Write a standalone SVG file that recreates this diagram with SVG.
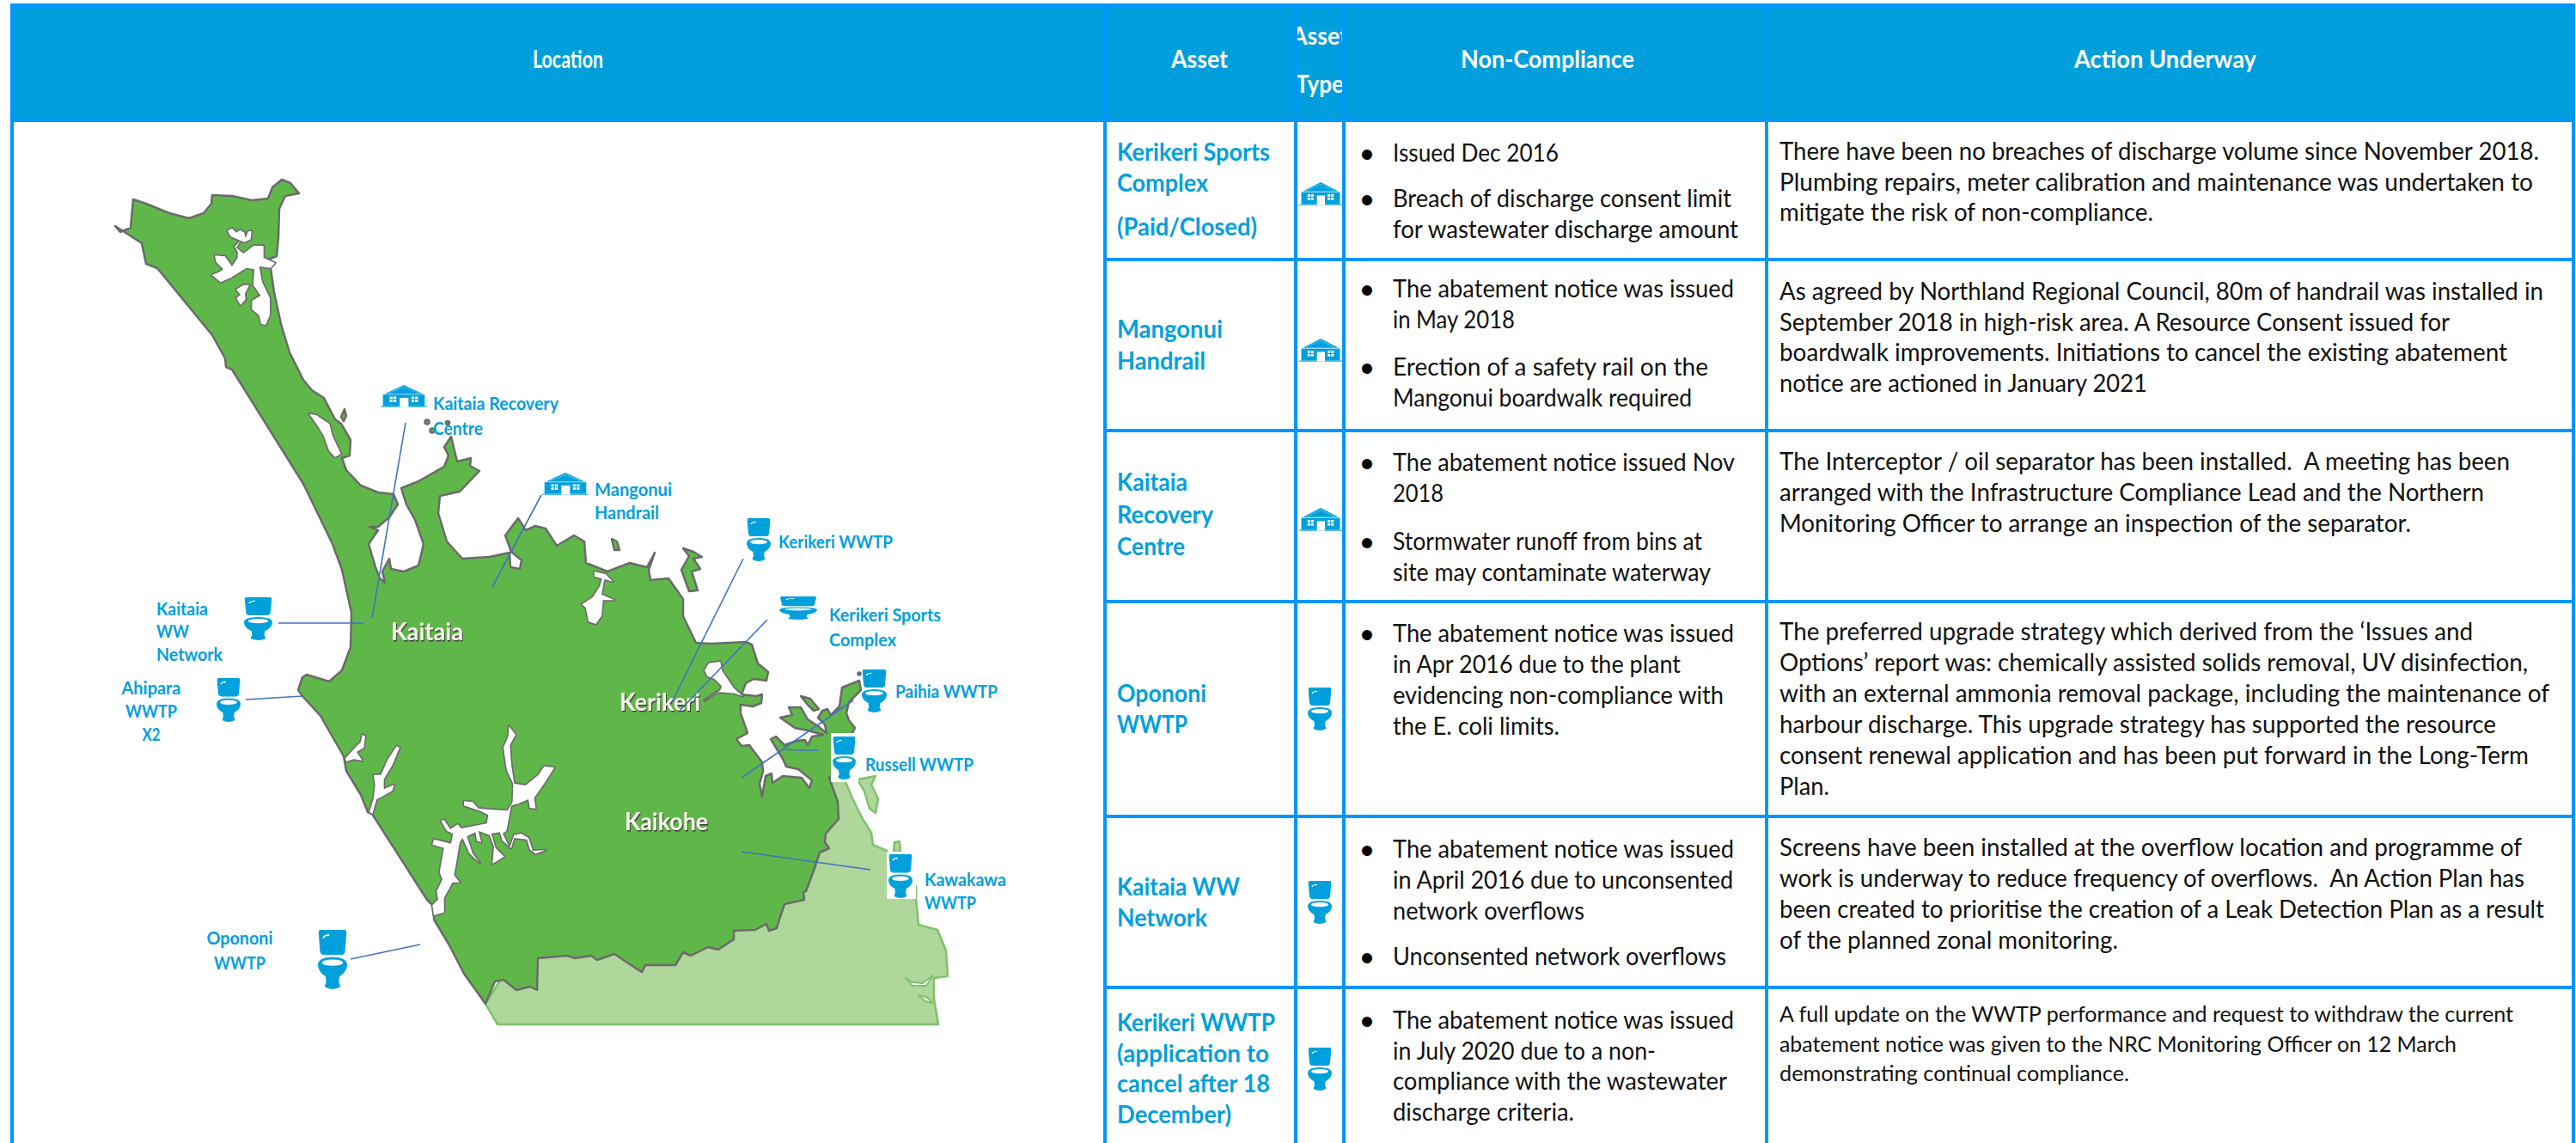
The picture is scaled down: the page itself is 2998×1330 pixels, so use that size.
<svg xmlns="http://www.w3.org/2000/svg" xmlns:xlink="http://www.w3.org/1999/xlink" width="2998" height="1330" viewBox="0 0 2998 1330">
<style>
text{font-family:"Lato","Liberation Sans",sans-serif}
.b{font-size:28.5px;fill:#111}
.s{font-size:25.5px;fill:#111}
.a{font-size:29px;font-weight:700;fill:#00A0DC}
.h{font-size:29px;font-weight:700;fill:#fff;text-anchor:middle}
.m{font-size:21.5px;font-weight:700;fill:#00A0DC}
.mc{font-size:21.5px;font-weight:700;fill:#00A0DC;text-anchor:middle}
.p{font-size:29px;font-weight:700;fill:#F4F4E8;filter:url(#ps)}
.d{font-family:"Liberation Sans",sans-serif;font-size:44px;fill:#000;text-anchor:middle}
.g{fill:none;stroke:#0096FF;stroke-width:4}
.c{fill:none;stroke:#4472C4;stroke-width:1.6}
</style>
<defs>
<filter id="soft" filterUnits="userSpaceOnUse" x="0" y="140" width="1290" height="1190"><feGaussianBlur stdDeviation="0.7"/></filter>
<filter id="ps" x="-5%" y="-20%" width="110%" height="140%"><feDropShadow dx="1" dy="1.5" stdDeviation="0.6" flood-color="#3a3a3a"/></filter>
<clipPath id="atc"><rect x="1510" y="10" width="52" height="128"/></clipPath>
<symbol id="toilet" viewBox="0 0 84 150" preserveAspectRatio="none">
<path fill="#00A0DC" d="M8,0H76Q83,0 82,8L78,54Q77,63 68,63H16Q7,63 6,54L2,8Q1,0 8,0Z"/>
<path fill="#fff" d="M13,20Q18,11 34,11L31,16H22L17,22Z"/>
<path fill="#00A0DC" d="M0,88Q1,69 42,69Q83,69 84,88Q84,106 62,118L60,132Q64,138 64,144Q54,150 42,150Q30,150 20,144Q20,138 24,132L22,118Q0,106 0,88Z"/>
<ellipse fill="#fff" cx="42" cy="83" rx="30" ry="8"/>
</symbol>
<symbol id="house" viewBox="0 0 160 77" preserveAspectRatio="none">
<path fill="#00A0DC" d="M80,0L147,31H13Z"/>
<path fill="none" stroke="#fff" stroke-width="2" stroke-dasharray="3 3" d="M28,28L80,7L132,28"/>
<rect fill="#00A0DC" x="8" y="33" width="144" height="40"/>
<rect fill="#00A0DC" x="0" y="73" width="160" height="3"/>
<g fill="#fff"><rect x="31" y="40" width="10" height="8"/><rect x="44" y="40" width="10" height="8"/><rect x="31" y="51" width="10" height="8"/><rect x="44" y="51" width="10" height="8"/><rect x="106" y="40" width="10" height="8"/><rect x="119" y="40" width="10" height="8"/><rect x="106" y="51" width="10" height="8"/><rect x="119" y="51" width="10" height="8"/><rect x="66" y="44" width="30" height="32"/></g>
</symbol>
<g id="inl">
<g transform="translate(120,200) scale(.33333)">
<path d="M435,205L450,197 465,212 478,203 493,212 497,232 507,208 518,207 515,235 495,245 480,240 465,265 490,285 510,270 525,258 560,258 560,300 600,318 585,335 545,330 555,385 582,440 582,500 567,535 552,530 545,500 520,480 520,450 550,432 525,395 528,340 500,335 445,370 410,385 380,360 405,350 420,340 395,315 390,292 425,295 450,330 470,300 470,280 460,260 480,240 445,225Z"/>
<path d="M510,395L495,425 497,445 480,465 465,440 480,430 465,410 490,395Z"/>
<path d="M720,845L745,850 790,880 800,920 830,985 810,995 790,975 770,920 745,880Z"/>
</g>
<g transform="translate(340,600) scale(.33333)">
<path d="M510,1340L505,1310 525,1270 515,1245 530,1160 490,1148 495,1130 555,1145 562,1110 540,1100 520,1065 530,1062 552,1095 578,1078 590,1092 680,1075 685,1045 660,1032 600,1012 600,997 630,1000 650,1022 680,1025 752,1030 770,1000 772,935 750,890 738,810 755,770 757,735 780,765 760,800 765,870 775,935 815,942 860,905 880,875 915,880 880,935 845,985 850,1022 830,1020 825,990 790,1005 765,1012 748,1100 735,1110 760,1160 775,1115 800,1110 825,1125 840,1170 885,1168 850,1180 830,1165 820,1130 775,1125 765,1160 735,1135 725,1105 695,1110 710,1160 740,1190 700,1215 705,1155 690,1115 650,1100 660,1140 645,1135 640,1105 610,1120 630,1180 655,1212 620,1180 595,1125 585,1140 575,1200 565,1255 585,1280 560,1280 530,1335 530,1385 495,1395 490,1360Z"/>
<path d="M185,848L215,815 240,790 245,765 255,770 250,810 225,825 245,855 215,850 190,858Z"/>
<path d="M270,1035L285,985 290,940 285,905 310,905 335,850 365,805 375,810 350,870 320,920 320,955 355,940 350,960 315,980 295,990 280,1040Z"/>
<path d="M1055,195L1095,205 1120,230 1090,222 1080,275 1125,295 1085,295 1080,350 1060,378 1035,370 1025,320 1012,310 1050,285 1075,245 1082,220 1055,212Z"/>
</g>
<g transform="translate(740,590) scale(.33333)">
<path d="M240,570L255,545 295,540 300,570 340,630 372,660 345,650 285,645 240,675 295,640 300,625 275,600 250,590Z"/>
</g>
</g>
</defs>
<rect width="2998" height="1330" fill="#fff"/>

<g id="table-header">
<rect x="14" y="6" width="2981" height="134" fill="#009EDB"/>
<text class="h" x="661" y="79" textLength="82" lengthAdjust="spacingAndGlyphs">Location</text>
<text class="h" x="1396" y="79" textLength="66" lengthAdjust="spacingAndGlyphs">Asset</text>
<g clip-path="url(#atc)"><text class="h" x="1536" y="52" textLength="66" lengthAdjust="spacingAndGlyphs">Asset</text>
<text class="h" x="1536" y="108" textLength="56" lengthAdjust="spacingAndGlyphs">Type</text></g>
<text class="h" x="1801" y="79" textLength="202" lengthAdjust="spacingAndGlyphs">Non-Compliance</text>
<text class="h" x="2520" y="79" textLength="212" lengthAdjust="spacingAndGlyphs">Action Underway</text>
</g>

<g id="map" filter="url(#soft)">
<path fill="#AFD69B" stroke="#7CC36A" stroke-width="2.5" stroke-linejoin="round" d="M565,1168L579,1192 1092,1192 1087,1162 1087,1138 1103,1136 1101,1106 1091,1082 1069,1076 1066,1045 1066,1031 1032,990 1016,983 1014,969 1004,953 992,929 984,910 965,900 900,1000 620,1080Z"/>
<path fill="#AFD69B" stroke="#7CC36A" stroke-width="2.5" stroke-linejoin="round" d="M998,907L1019,903 1014,913 1022,929 1019,946 1012,941 1006,921Z"/>
<path fill="#AFD69B" stroke="#7CC36A" stroke-width="2.5" stroke-linejoin="round" d="M1041,980L1047,979 1048,991 1040,991Z"/>
<path fill="#fff" stroke="#7CC36A" stroke-width="2" stroke-linejoin="round" d="M1054,1138L1062,1143 1074,1144 1086,1135 1078,1147 1062,1147Z"/>
<path fill="#fff" stroke="#7CC36A" stroke-width="2" stroke-linejoin="round" d="M1069,1158L1078,1160 1086,1167 1077,1165Z"/>
<path id="land" fill="#61B748" stroke="#6B6B6B" stroke-width="2.5" stroke-linejoin="round" d="M134,263L140,270 152,265 155,232 170,237 197,248 220,254 237,248 246,237 247,227 270,228 293,233 312,231 317,218 328,209 338,213 348,225 332,228 325,243 324,277 322,298 307,304 315,312 319,340 327,377 337,410 353,442 363,454 377,463 390,488 397,493 408,512 407,530 398,533 403,547 420,565 440,573 458,575 463,587 453,602 440,613 430,613 440,617 429,633 437,660 442,673 448,678 445,665 453,650 455,662 470,665 487,658 493,633 483,605 473,587 467,568 487,560 517,543 522,530 517,520 525,508 532,537 548,533 547,542 558,548 535,572 512,577 510,597 520,630 538,650 570,648 593,643 594,660 605,662 607,652 595,642 588,623 603,603 612,617 623,612 635,615 648,635 668,623 680,630 682,655 707,665 733,655 753,660 762,643 755,663 757,675 778,673 795,697 795,717 810,748 827,749 868,747 875,750 882,772 894,782 892,792 877,790 868,795 863,808 880,810 887,808 886,818 876,822 862,820 862,830 870,853 857,860 863,868 872,867 887,887 888,898 884,912 887,927 891,903 898,900 899,911 911,903 933,905 942,917 945,908 929,895 915,892 911,883 897,860 903,857 913,867 927,862 937,861 940,867 945,857 958,855 940,850 925,847 908,835 922,832 918,823 932,823 940,837 952,845 962,853 960,843 952,835 957,827 963,825 967,832 977,822 980,800 1000,792 1002,803 988,817 985,830 988,838 995,847 992,853 990,880 965,905 975,933 976,953 961,970 960,980 965,987 954,992 947,1013 938,1037 935,1038 936,1047 913,1052 908,1067 904,1080 895,1083 892,1075 879,1082 854,1083 854,1093 836,1105 824,1102 804,1112 795,1108 786,1123 751,1123 747,1131 742,1128 715,1110 695,1117 688,1112 669,1115 660,1112 626,1115 625,1152 617,1148 601,1152 586,1140 576,1142 565,1168 540,1133 523,1100 505,1070 505,1065 517,1060 517,1045 508,1037 510,1048 503,1053 497,1047 433,947 428,945 420,925 403,897 400,880 373,833 352,810 347,803 352,788 357,785 383,793 398,780 408,753 409,713 398,663 387,633 353,563 270,430 263,427 262,417 247,390 183,312 170,307 165,283Z"/>
<use href="#inl" fill="#fff" stroke="#6B6B6B" stroke-width="10" stroke-linejoin="round"/>
<use href="#inl" fill="#fff" stroke="none"/>
<g fill="#61B748" stroke="#6B6B6B" stroke-width="2.5" stroke-linejoin="round">
<path d="M712,627L718,630 721,640 715,640Z"/>
<path d="M795,638L807,642 817,648 807,650 815,662 805,665 812,687 802,688 793,663 802,647Z"/>
<path d="M932,810L943,813 953,825 947,827 940,820Z"/>
<path d="M397,485L401,476 403,484 400,490Z"/>
<circle cx="497" cy="491" r="2.5"/><circle cx="503" cy="501" r="2.5"/><circle cx="521" cy="492" r="2"/>
<circle cx="1000" cy="784" r="1.5"/>
</g>
</g>
<g id="place-names">
<text class="p" x="455" y="745" textLength="84" lengthAdjust="spacingAndGlyphs">Kaitaia</text>
<text class="p" x="721" y="827" textLength="94" lengthAdjust="spacingAndGlyphs">Kerikeri</text>
<text class="p" x="727" y="966" textLength="97" lengthAdjust="spacingAndGlyphs">Kaikohe</text>
</g>

<g id="connectors" class="c">
<path class="c" d="M472,492L433,719"/>
<path class="c" d="M630,576L573,683"/>
<path class="c" d="M324,725H423"/>
<path class="c" d="M286,814L352,810"/>
<path class="c" d="M408,1116L489,1099"/>
<path class="c" d="M865,650L782,817"/>
<path class="c" d="M893,721L790,828"/>
<path class="c" d="M993,815L863,905"/>
<path class="c" d="M953,873L930,873 913,872"/>
<path class="c" d="M1013,1012L863,991"/>
</g>

<g id="node-kaitaia-recovery"><use href="#house" x="443" y="448" width="54" height="26"/><text class="m" x="504" y="477" textLength="146" lengthAdjust="spacingAndGlyphs">Kaitaia Recovery</text><text class="m" x="504" y="506" textLength="58" lengthAdjust="spacingAndGlyphs">Centre</text></g>
<g id="node-mangonui"><use href="#house" x="631" y="550" width="54" height="26"/><text class="m" x="692" y="577" textLength="90" lengthAdjust="spacingAndGlyphs">Mangonui</text><text class="m" x="692" y="604" textLength="75" lengthAdjust="spacingAndGlyphs">Handrail</text></g>
<g id="node-kerikeri-wwtp"><use href="#toilet" x="869" y="603" width="28" height="50"/><text class="m" x="906" y="638" textLength="133" lengthAdjust="spacingAndGlyphs">Kerikeri WWTP</text></g>
<g id="node-kerikeri-sports"><use href="#toilet" x="907" y="694" width="44" height="27"/><text class="m" x="965" y="723" textLength="130" lengthAdjust="spacingAndGlyphs">Kerikeri Sports</text><text class="m" x="965" y="752" textLength="78" lengthAdjust="spacingAndGlyphs">Complex</text></g>
<g id="node-paihia"><use href="#toilet" x="1003" y="779" width="29" height="50"/><text class="m" x="1042" y="812" textLength="119" lengthAdjust="spacingAndGlyphs">Paihia WWTP</text></g>
<g id="node-russell"><rect x="967" y="853" width="32" height="57" fill="#fff"/><use href="#toilet" x="969" y="857" width="27" height="50"/><text class="m" x="1007" y="897" textLength="126" lengthAdjust="spacingAndGlyphs">Russell WWTP</text></g>
<g id="node-kawakawa"><rect x="1032" y="991" width="34" height="55" fill="#fff"/><use href="#toilet" x="1034" y="994" width="28" height="51"/><text class="m" x="1076" y="1031" textLength="95" lengthAdjust="spacingAndGlyphs">Kawakawa</text><text class="m" x="1076" y="1058" textLength="60" lengthAdjust="spacingAndGlyphs">WWTP</text></g>
<g id="node-kaitaia-ww"><use href="#toilet" x="284" y="695" width="33" height="50"/><text class="m" x="182" y="716" textLength="60" lengthAdjust="spacingAndGlyphs">Kaitaia</text><text class="m" x="182" y="742" textLength="38" lengthAdjust="spacingAndGlyphs">WW</text><text class="m" x="182" y="769" textLength="77" lengthAdjust="spacingAndGlyphs">Network</text></g>
<g id="node-ahipara"><use href="#toilet" x="252" y="789" width="28" height="51"/><text class="mc" x="176" y="808" textLength="69" lengthAdjust="spacingAndGlyphs">Ahipara</text><text class="mc" x="176" y="835" textLength="60" lengthAdjust="spacingAndGlyphs">WWTP</text><text class="mc" x="176" y="862" textLength="21" lengthAdjust="spacingAndGlyphs">X2</text></g>
<g id="node-opononi"><use href="#toilet" x="370" y="1082" width="34" height="69"/><text class="mc" x="279" y="1099" textLength="77" lengthAdjust="spacingAndGlyphs">Opononi</text><text class="mc" x="279" y="1128" textLength="60" lengthAdjust="spacingAndGlyphs">WWTP</text></g>

<g id="row-1">
<text class="a" x="1300" y="187" textLength="178" lengthAdjust="spacingAndGlyphs">Kerikeri Sports</text><text class="a" x="1300" y="223" textLength="106" lengthAdjust="spacingAndGlyphs">Complex</text><text class="a" x="1300" y="274" textLength="163" lengthAdjust="spacingAndGlyphs">(Paid/Closed)</text>
<use href="#house" x="1512" y="212" width="50" height="27"/>
<text class="d" x="1591" y="195">•</text><text class="b" x="1621" y="188" textLength="193" lengthAdjust="spacingAndGlyphs">Issued Dec 2016</text>
<text class="d" x="1591" y="248">•</text><text class="b" x="1621" y="241" textLength="394" lengthAdjust="spacingAndGlyphs">Breach of discharge consent limit</text>
<text class="b" x="1621" y="277" textLength="402" lengthAdjust="spacingAndGlyphs">for wastewater discharge amount</text>
<text class="b" x="2071" y="186" textLength="884" lengthAdjust="spacingAndGlyphs">There have been no breaches of discharge volume since November 2018.</text>
<text class="b" x="2071" y="222" textLength="877" lengthAdjust="spacingAndGlyphs">Plumbing repairs, meter calibration and maintenance was undertaken to</text>
<text class="b" x="2071" y="257" textLength="435" lengthAdjust="spacingAndGlyphs">mitigate the risk of non-compliance.</text>
</g>
<g id="row-2">
<text class="a" x="1300" y="393" textLength="123" lengthAdjust="spacingAndGlyphs">Mangonui</text><text class="a" x="1300" y="430" textLength="103" lengthAdjust="spacingAndGlyphs">Handrail</text>
<use href="#house" x="1512" y="394" width="50" height="27"/>
<text class="d" x="1591" y="353">•</text><text class="b" x="1621" y="346" textLength="397" lengthAdjust="spacingAndGlyphs">The abatement notice was issued</text>
<text class="b" x="1621" y="382" textLength="142" lengthAdjust="spacingAndGlyphs">in May 2018</text>
<text class="d" x="1591" y="444">•</text><text class="b" x="1621" y="437" textLength="367" lengthAdjust="spacingAndGlyphs">Erection of a safety rail on the</text>
<text class="b" x="1621" y="473" textLength="348" lengthAdjust="spacingAndGlyphs">Mangonui boardwalk required</text>
<text class="b" x="2071" y="349" textLength="889" lengthAdjust="spacingAndGlyphs">As agreed by Northland Regional Council, 80m of handrail was installed in</text>
<text class="b" x="2071" y="385" textLength="780" lengthAdjust="spacingAndGlyphs">September 2018 in high-risk area. A Resource Consent issued for</text>
<text class="b" x="2071" y="420" textLength="847" lengthAdjust="spacingAndGlyphs">boardwalk improvements. Initiations to cancel the existing abatement</text>
<text class="b" x="2071" y="456" textLength="428" lengthAdjust="spacingAndGlyphs">notice are actioned in January 2021</text>
</g>
<g id="row-3">
<text class="a" x="1300" y="571" textLength="82" lengthAdjust="spacingAndGlyphs">Kaitaia</text><text class="a" x="1300" y="609" textLength="112" lengthAdjust="spacingAndGlyphs">Recovery</text><text class="a" x="1300" y="646" textLength="79" lengthAdjust="spacingAndGlyphs">Centre</text>
<use href="#house" x="1512" y="591" width="50" height="27"/>
<text class="d" x="1591" y="555">•</text><text class="b" x="1621" y="548" textLength="398" lengthAdjust="spacingAndGlyphs">The abatement notice issued Nov</text>
<text class="b" x="1621" y="584" textLength="59" lengthAdjust="spacingAndGlyphs">2018</text>
<text class="d" x="1591" y="647">•</text><text class="b" x="1621" y="640" textLength="360" lengthAdjust="spacingAndGlyphs">Stormwater runoff from bins at</text>
<text class="b" x="1621" y="676" textLength="370" lengthAdjust="spacingAndGlyphs">site may contaminate waterway</text>
<text class="b" x="2071" y="547" textLength="850" lengthAdjust="spacingAndGlyphs" xml:space="preserve">The Interceptor / oil separator has been installed.  A meeting has been</text>
<text class="b" x="2071" y="583" textLength="820" lengthAdjust="spacingAndGlyphs">arranged with the Infrastructure Compliance Lead and the Northern</text>
<text class="b" x="2071" y="619" textLength="735" lengthAdjust="spacingAndGlyphs">Monitoring Officer to arrange an inspection of the separator.</text>
</g>
<g id="row-4">
<text class="a" x="1300" y="817" textLength="104" lengthAdjust="spacingAndGlyphs">Opononi</text><text class="a" x="1300" y="853" textLength="82" lengthAdjust="spacingAndGlyphs">WWTP</text>
<use href="#toilet" x="1522" y="800" width="28" height="50"/>
<text class="d" x="1591" y="754">•</text><text class="b" x="1621" y="747" textLength="397" lengthAdjust="spacingAndGlyphs">The abatement notice was issued</text>
<text class="b" x="1621" y="783" textLength="335" lengthAdjust="spacingAndGlyphs">in Apr 2016 due to the plant</text>
<text class="b" x="1621" y="819" textLength="385" lengthAdjust="spacingAndGlyphs">evidencing non-compliance with</text>
<text class="b" x="1621" y="855" textLength="194" lengthAdjust="spacingAndGlyphs">the E. coli limits.</text>
<text class="b" x="2071" y="745" textLength="807" lengthAdjust="spacingAndGlyphs">The preferred upgrade strategy which derived from the ‘Issues and</text>
<text class="b" x="2071" y="781" textLength="871" lengthAdjust="spacingAndGlyphs">Options’ report was: chemically assisted solids removal, UV disinfection,</text>
<text class="b" x="2071" y="817" textLength="896" lengthAdjust="spacingAndGlyphs">with an external ammonia removal package, including the maintenance of</text>
<text class="b" x="2071" y="853" textLength="834" lengthAdjust="spacingAndGlyphs">harbour discharge. This upgrade strategy has supported the resource</text>
<text class="b" x="2071" y="889" textLength="872" lengthAdjust="spacingAndGlyphs">consent renewal application and has been put forward in the Long-Term</text>
<text class="b" x="2071" y="925" textLength="58" lengthAdjust="spacingAndGlyphs">Plan.</text>
</g>
<g id="row-5">
<text class="a" x="1300" y="1042" textLength="143" lengthAdjust="spacingAndGlyphs">Kaitaia WW</text><text class="a" x="1300" y="1078" textLength="105" lengthAdjust="spacingAndGlyphs">Network</text>
<use href="#toilet" x="1522" y="1025" width="28" height="50"/>
<text class="d" x="1591" y="1005">•</text><text class="b" x="1621" y="998" textLength="397" lengthAdjust="spacingAndGlyphs">The abatement notice was issued</text>
<text class="b" x="1621" y="1034" textLength="396" lengthAdjust="spacingAndGlyphs">in April 2016 due to unconsented</text>
<text class="b" x="1621" y="1070" textLength="223" lengthAdjust="spacingAndGlyphs">network overflows</text>
<text class="d" x="1591" y="1130">•</text><text class="b" x="1621" y="1123" textLength="388" lengthAdjust="spacingAndGlyphs">Unconsented network overflows</text>
<text class="b" x="2071" y="996" textLength="864" lengthAdjust="spacingAndGlyphs">Screens have been installed at the overflow location and programme of</text>
<text class="b" x="2071" y="1032" textLength="867" lengthAdjust="spacingAndGlyphs" xml:space="preserve">work is underway to reduce frequency of overflows.  An Action Plan has</text>
<text class="b" x="2071" y="1068" textLength="890" lengthAdjust="spacingAndGlyphs">been created to prioritise the creation of a Leak Detection Plan as a result</text>
<text class="b" x="2071" y="1104" textLength="394" lengthAdjust="spacingAndGlyphs">of the planned zonal monitoring.</text>
</g>
<g id="row-6">
<text class="a" x="1300" y="1200" textLength="184" lengthAdjust="spacingAndGlyphs">Kerikeri WWTP</text><text class="a" x="1300" y="1236" textLength="177" lengthAdjust="spacingAndGlyphs">(application to</text><text class="a" x="1300" y="1271" textLength="178" lengthAdjust="spacingAndGlyphs">cancel after 18</text><text class="a" x="1300" y="1307" textLength="133" lengthAdjust="spacingAndGlyphs">December)</text>
<use href="#toilet" x="1522" y="1219" width="28" height="50"/>
<text class="d" x="1591" y="1204">•</text><text class="b" x="1621" y="1197" textLength="397" lengthAdjust="spacingAndGlyphs">The abatement notice was issued</text>
<text class="b" x="1621" y="1233" textLength="306" lengthAdjust="spacingAndGlyphs">in July 2020 due to a non-</text>
<text class="b" x="1621" y="1268" textLength="389" lengthAdjust="spacingAndGlyphs">compliance with the wastewater</text>
<text class="b" x="1621" y="1304" textLength="211" lengthAdjust="spacingAndGlyphs">discharge criteria.</text>
<text class="s" x="2071" y="1189" textLength="854" lengthAdjust="spacingAndGlyphs">A full update on the WWTP performance and request to withdraw the current</text>
<text class="s" x="2071" y="1224" textLength="788" lengthAdjust="spacingAndGlyphs">abatement notice was given to the NRC Monitoring Officer on 12 March</text>
<text class="s" x="2071" y="1258" textLength="407" lengthAdjust="spacingAndGlyphs">demonstrating continual compliance.</text>
</g>

<g id="grid">
<path class="g" d="M14,6H2995M12,140H2997M1286,302H2997M1286,501H2997M1286,700H2997M1286,950H2997M1286,1149H2997"/>
<path class="g" d="M14,4V1330M1286,4V1330M1508,4V1330M1564,4V1330M2056,4V1330M2995,4V1330"/>
</g>
</svg>
